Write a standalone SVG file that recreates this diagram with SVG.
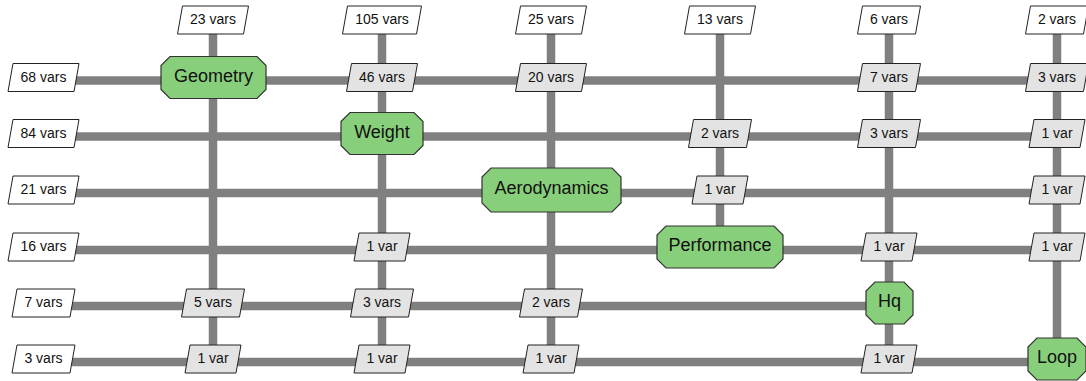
<svg xmlns="http://www.w3.org/2000/svg" xmlns:xlink="http://www.w3.org/1999/xlink" width="1086" height="381" viewBox="0 0 1086 381">
<style>
.ln{stroke:#808080;stroke-width:8.5;fill:none}
.in{fill:#ffffff;stroke:#222;stroke-width:1}
.dt{fill:#e3e3e3;stroke:#222;stroke-width:1}
.fn{fill:#88cf7b;stroke:#333;stroke-width:1.2}
.t{font-family:"Liberation Sans",Arial,sans-serif;font-size:14px;fill:#111;text-anchor:middle;dominant-baseline:central}
.n{font-family:"Liberation Sans",Arial,sans-serif;font-size:18px;fill:#111;text-anchor:middle;dominant-baseline:central}
</style>
<defs>
<polygon id="p1" points="-26.5,-14 31.5,-14 26.5,14 -31.5,14"/>
<polygon id="p2" points="-30.5,-14 35.5,-14 30.5,14 -35.5,14"/>
<polygon id="p3" points="-34.5,-14 39.5,-14 34.5,14 -39.5,14"/>
<polygon id="pv" points="-23,-14 28,-14 23,14 -28,14"/>
</defs>
<rect width="1086" height="381" fill="#ffffff"/>
<g id="connectors">
<line class="ln" x1="43.5" y1="80.5" x2="1057" y2="80.5"/>
<line class="ln" x1="43.5" y1="136.5" x2="1057" y2="136.5"/>
<line class="ln" x1="43.5" y1="193" x2="1057" y2="193"/>
<line class="ln" x1="43.5" y1="250" x2="1057" y2="250"/>
<line class="ln" x1="43.5" y1="306" x2="889" y2="306"/>
<line class="ln" x1="43.5" y1="362" x2="1057" y2="362"/>
<line class="ln" x1="213" y1="20" x2="213" y2="362"/>
<line class="ln" x1="382" y1="20" x2="382" y2="362"/>
<line class="ln" x1="551" y1="20" x2="551" y2="362"/>
<line class="ln" x1="720" y1="20" x2="720" y2="250"/>
<line class="ln" x1="889" y1="20" x2="889" y2="362"/>
<line class="ln" x1="1057" y1="20" x2="1057" y2="362"/>
</g>
<g id="inputs-top">
<g transform="translate(213,20)"><use xlink:href="#p2" class="in"/><text class="t" y="-1">23 vars</text></g>
<g transform="translate(382,20)"><use xlink:href="#p3" class="in"/><text class="t" y="-1">105 vars</text></g>
<g transform="translate(551,20)"><use xlink:href="#p2" class="in"/><text class="t" y="-1">25 vars</text></g>
<g transform="translate(720,20)"><use xlink:href="#p2" class="in"/><text class="t" y="-1">13 vars</text></g>
<g transform="translate(889,20)"><use xlink:href="#p1" class="in"/><text class="t" y="-1">6 vars</text></g>
<g transform="translate(1057,20)"><use xlink:href="#p1" class="in"/><text class="t" y="-1">2 vars</text></g>
</g>
<g id="inputs-left">
<g transform="translate(43.5,77.5)"><use xlink:href="#p2" class="in"/><text class="t" y="-1">68 vars</text></g>
<g transform="translate(43.5,133.5)"><use xlink:href="#p2" class="in"/><text class="t" y="-1">84 vars</text></g>
<g transform="translate(43.5,190)"><use xlink:href="#p2" class="in"/><text class="t" y="-1">21 vars</text></g>
<g transform="translate(43.5,247)"><use xlink:href="#p2" class="in"/><text class="t" y="-1">16 vars</text></g>
<g transform="translate(43.5,303)"><use xlink:href="#p1" class="in"/><text class="t" y="-1">7 vars</text></g>
<g transform="translate(43.5,359)"><use xlink:href="#p1" class="in"/><text class="t" y="-1">3 vars</text></g>
</g>
<g id="data">
<g transform="translate(382,77.5)"><use xlink:href="#p2" class="dt"/><text class="t" y="-1">46 vars</text></g>
<g transform="translate(551,77.5)"><use xlink:href="#p2" class="dt"/><text class="t" y="-1">20 vars</text></g>
<g transform="translate(889,77.5)"><use xlink:href="#p1" class="dt"/><text class="t" y="-1">7 vars</text></g>
<g transform="translate(1057,77.5)"><use xlink:href="#p1" class="dt"/><text class="t" y="-1">3 vars</text></g>
<g transform="translate(720,133.5)"><use xlink:href="#p1" class="dt"/><text class="t" y="-1">2 vars</text></g>
<g transform="translate(889,133.5)"><use xlink:href="#p1" class="dt"/><text class="t" y="-1">3 vars</text></g>
<g transform="translate(1057,133.5)"><use xlink:href="#pv" class="dt"/><text class="t" y="-1">1 var</text></g>
<g transform="translate(720,190)"><use xlink:href="#pv" class="dt"/><text class="t" y="-1">1 var</text></g>
<g transform="translate(1057,190)"><use xlink:href="#pv" class="dt"/><text class="t" y="-1">1 var</text></g>
<g transform="translate(382,247)"><use xlink:href="#pv" class="dt"/><text class="t" y="-1">1 var</text></g>
<g transform="translate(889,247)"><use xlink:href="#pv" class="dt"/><text class="t" y="-1">1 var</text></g>
<g transform="translate(1057,247)"><use xlink:href="#pv" class="dt"/><text class="t" y="-1">1 var</text></g>
<g transform="translate(213,303)"><use xlink:href="#p1" class="dt"/><text class="t" y="-1">5 vars</text></g>
<g transform="translate(382,303)"><use xlink:href="#p1" class="dt"/><text class="t" y="-1">3 vars</text></g>
<g transform="translate(551,303)"><use xlink:href="#p1" class="dt"/><text class="t" y="-1">2 vars</text></g>
<g transform="translate(213,359)"><use xlink:href="#pv" class="dt"/><text class="t" y="-1">1 var</text></g>
<g transform="translate(382,359)"><use xlink:href="#pv" class="dt"/><text class="t" y="-1">1 var</text></g>
<g transform="translate(551,359)"><use xlink:href="#pv" class="dt"/><text class="t" y="-1">1 var</text></g>
<g transform="translate(889,359)"><use xlink:href="#pv" class="dt"/><text class="t" y="-1">1 var</text></g>
</g>
<g id="geometry" transform="translate(213.5,77.5)"><polygon class="fn" points="-43.5,-21 43.5,-21 52.5,-12 52.5,12 43.5,21 -43.5,21 -52.5,12 -52.5,-12"/><text class="n" y="-2">Geometry</text></g>
<g id="weight" transform="translate(382,133.5)"><polygon class="fn" points="-32,-21 32,-21 41,-12 41,12 32,21 -32,21 -41,12 -41,-12"/><text class="n" y="-2">Weight</text></g>
<g id="aerodynamics" transform="translate(551.5,190)"><polygon class="fn" points="-60.5,-22 60.5,-22 69.5,-13 69.5,13 60.5,22 -60.5,22 -69.5,13 -69.5,-13"/><text class="n" y="-2">Aerodynamics</text></g>
<g id="performance" transform="translate(720,247)"><polygon class="fn" points="-54,-21 54,-21 63,-12 63,12 54,21 -54,21 -63,12 -63,-12"/><text class="n" y="-2">Performance</text></g>
<g id="hq" transform="translate(889.5,303)"><polygon class="fn" points="-14.5,-21 14.5,-21 23.5,-12 23.5,12 14.5,21 -14.5,21 -23.5,12 -23.5,-12"/><text class="n" y="-2">Hq</text></g>
<g id="loop" transform="translate(1057,359)"><polygon class="fn" points="-20,-21 20,-21 29,-12 29,12 20,21 -20,21 -29,12 -29,-12"/><text class="n" y="-2">Loop</text></g>
</svg>
